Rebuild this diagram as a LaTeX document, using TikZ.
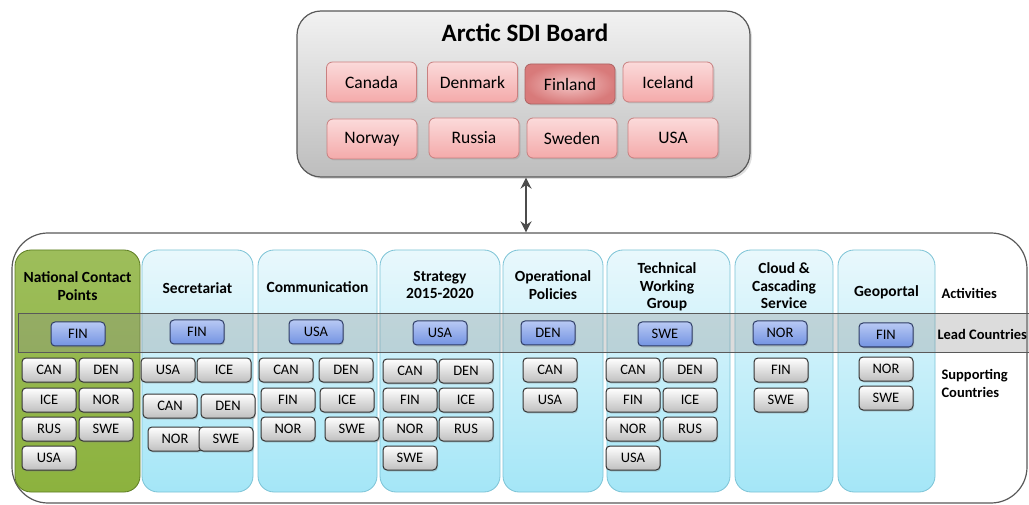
\documentclass[tikz,border=0pt]{standalone}
\usepackage{fontspec}
\setmainfont{Carlito}
\usepackage{xcolor}
\usepackage{tikz}
\usetikzlibrary{arrows.meta,shadows}

\definecolor{boardtop}{HTML}{F2F2F2}
\definecolor{boardbot}{HTML}{BDBDBD}
\definecolor{pinktop}{HTML}{FBDADA}
\definecolor{pinkbot}{HTML}{F4AAAA}
\definecolor{pinkline}{HTML}{C98080}
\definecolor{chairin}{HTML}{F4C6C6}
\definecolor{chairout}{HTML}{D87A7A}
\definecolor{ncpgreen}{HTML}{8CB23E}
\definecolor{ncpline}{HTML}{5E7D22}
\definecolor{coltop}{HTML}{E9F8FC}
\definecolor{colbot}{HTML}{A4E6F7}
\definecolor{colline}{HTML}{7CC3D6}
\definecolor{leadtop}{HTML}{B8C9F4}
\definecolor{leadbot}{HTML}{7393E2}
\definecolor{leadline}{HTML}{2F3D66}

\tikzset{
  board/.style={draw=black!65, line width=1.2pt, rounded corners=24pt,
    top color=boardtop, bottom color=boardbot,
    drop shadow={opacity=0.25, shadow xshift=2pt, shadow yshift=-2pt}},
  member/.style={draw=pinkline, line width=0.8pt, rounded corners=6pt,
    top color=pinktop, bottom color=pinkbot, minimum width=90pt, minimum height=40pt,
    font=\fontsize{17.5}{20}\selectfont,
    drop shadow={opacity=0.25, shadow xshift=1.5pt, shadow yshift=-1.5pt}},
  chair/.style={member, draw=chairout!80!black, inner color=chairin, outer color=chairout},
  activity/.style={draw=colline, line width=0.8pt, rounded corners=16pt,
    top color=coltop, bottom color=colbot, minimum height=242pt},
  contact/.style={activity, draw=ncpline, top color=ncpgreen!85, bottom color=ncpgreen},
  colhead/.style={align=center, font=\bfseries\fontsize{15.5}{17.5}\selectfont},
  lead/.style={draw=leadline, line width=1pt, rounded corners=4pt,
    top color=leadtop, bottom color=leadbot, minimum width=54pt, minimum height=24pt,
    font=\fontsize{14.5}{16}\selectfont,
    drop shadow={opacity=0.3, shadow xshift=1pt, shadow yshift=-1.5pt}},
  support/.style={draw=black!80, line width=1pt, rounded corners=4pt,
    top color=white, bottom color=gray!50, minimum width=54pt, minimum height=24pt,
    font=\fontsize{14.5}{16}\selectfont,
    drop shadow={opacity=0.3, shadow xshift=1pt, shadow yshift=-1.5pt}},
  rowlabel/.style={anchor=west, align=left, font=\bfseries\fontsize{14.5}{18}\selectfont}
}

\begin{document}
\begin{tikzpicture}[x=1pt, y=-1pt]
    \useasboundingbox (0,0) rectangle (1029,505);

    % Draw the board box with its member countries
    \node[board, minimum width=453pt, minimum height=166pt] (board) at (523.5,94) {};
    \node[font=\bfseries\fontsize{25}{28}\selectfont] (title) at (525,33) {Arctic SDI Board};
    \node[member] (canada) at (371.5,82) {Canada};
    \node[member] (denmark) at (472.5,82) {Denmark};
    \node[chair] (finland) at (570,84) {Finland};
    \node[member] (iceland) at (668,82) {Iceland};
    \node[member] (norway) at (372,139) {Norway};
    \node[member] (russia) at (474,138) {Russia};
    \node[member] (sweden) at (572,138) {Sweden};
    \node[member] (usa) at (673,138) {USA};

    % Draw the outer frame of the activities
    \node[draw=black!65, line width=1.2pt, rounded corners=36pt, fill=white,
      minimum width=1015pt, minimum height=270pt] (program) at (519.5,368) {};

    % Draw the arrow between board and activities
    \draw[{Stealth[length=11pt,width=11pt]}-{Stealth[length=11pt,width=11pt]}, line width=2.6pt, black!70]
      (board.south -| 526,0) -- (program.north -| 526,0);

    % Draw the activity columns
    \node[contact, minimum width=125pt] (ncp) at (77.5,371) {};
    \node[activity, minimum width=111pt] (sec) at (197.5,371) {};
    \node[activity, minimum width=119pt] (comm) at (317.5,371) {};
    \node[activity, minimum width=120pt] (strat) at (440,371) {};
    \node[activity, minimum width=100pt] (oper) at (553,371) {};
    \node[activity, minimum width=123pt] (twg) at (668.5,371) {};
    \node[activity, minimum width=98pt] (cloud) at (784,371) {};
    \node[activity, minimum width=97pt] (geo) at (886.5,371) {};

    % Column headings
    \node[colhead] (ncphead) at (77.5,286) {National Contact\\Points};
    \node[colhead] (sechead) at (197.5,288) {Secretariat};
    \node[colhead] (commhead) at (317.5,287) {Communication};
    \node[colhead] (strathead) at (440,285) {Strategy\\2015-2020};
    \node[colhead] (operhead) at (553,285) {Operational\\Policies};
    \node[colhead] (twghead) at (667,287) {Technical\\Working\\Group};
    \node[colhead] (cloudhead) at (784,286) {Cloud \&\\Cascading\\Service};
    \node[colhead] (geohead) at (886.5,292) {Geoportal};

    % Draw the lead countries band
    \fill[black!45, opacity=0.3] (18,314) rectangle (1029,352);
    \draw[black!65, line width=1pt] (18,314) rectangle (1035,352);

    % Lead countries
    \node[lead] (ncplead) at (78,334) {FIN};
    \node[lead] (seclead) at (197,332) {FIN};
    \node[lead] (commlead) at (316,332) {USA};
    \node[lead] (stratlead) at (440,333) {USA};
    \node[lead] (operlead) at (548,333) {DEN};
    \node[lead] (twglead) at (665,334) {SWE};
    \node[lead] (cloudlead) at (780,333) {NOR};
    \node[lead] (geolead) at (886,335) {FIN};

    % Supporting countries
    \foreach \c/\x/\y [count=\i] in {CAN/49/370, DEN/106/370, ICE/49/400, NOR/106/400,
        RUS/49/429, SWE/106/429, USA/49/458}
      \node[support] (ncp\i) at (\x,\y) {\c};
    \foreach \c/\x/\y [count=\i] in {USA/168/370, ICE/224/370, CAN/170/406, DEN/228/406,
        NOR/175/439, SWE/226/439}
      \node[support] (sec\i) at (\x,\y) {\c};
    \foreach \c/\x/\y [count=\i] in {CAN/286/370, DEN/346/370, FIN/288/400, ICE/347/400,
        NOR/288/429, SWE/352/429}
      \node[support] (comm\i) at (\x,\y) {\c};
    \foreach \c/\x/\y [count=\i] in {CAN/410/371, DEN/466/371, FIN/410/400, ICE/466/400,
        NOR/410/429, RUS/466/429, SWE/410/458}
      \node[support] (strat\i) at (\x,\y) {\c};
    \foreach \c/\x/\y [count=\i] in {CAN/550/370, USA/550/400}
      \node[support] (oper\i) at (\x,\y) {\c};
    \foreach \c/\x/\y [count=\i] in {CAN/633/370, DEN/690/370, FIN/633/400, ICE/690/400,
        NOR/633/429, RUS/690/429, USA/633/458}
      \node[support] (twg\i) at (\x,\y) {\c};
    \foreach \c/\x/\y [count=\i] in {FIN/781/370, SWE/781/400}
      \node[support] (cloud\i) at (\x,\y) {\c};
    \foreach \c/\x/\y [count=\i] in {NOR/886/369, SWE/886/398}
      \node[support] (geo\i) at (\x,\y) {\c};

    % Row labels
    \node[rowlabel] (activities) at (938,293) {Activities};
    \node[rowlabel] (leadlabel) at (934,334) {Lead Countries};
    \node[rowlabel] (supportlabel) at (938,383) {Supporting\\Countries};
\end{tikzpicture}
\end{document}
